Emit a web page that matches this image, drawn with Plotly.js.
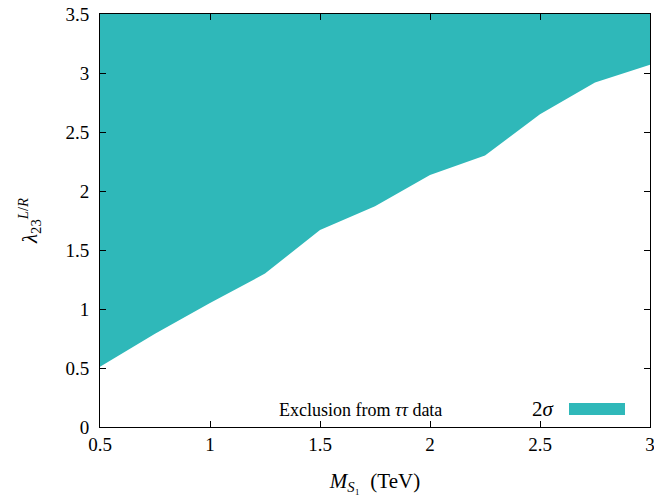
<!DOCTYPE html>
<html>
<head>
<meta charset="utf-8">
<script src="https://cdn.plot.ly/plotly-3.0.1.min.js"></script>
<style>html,body{margin:0;padding:0;background:#fff;}#chart{width:654px;height:495px;}</style>
</head>
<body>
<div id="chart"></div>
<script>
// Boundary of the 2σ exclusion region (excluded above the curve)
const massTeV = [0.5, 0.75, 1.0, 1.25, 1.5, 1.75, 2.0, 2.25, 2.5, 2.75, 3.0];
const lambdaLimit = [0.51, 0.79, 1.05, 1.30, 1.67, 1.87, 2.135, 2.30, 2.65, 2.92, 3.07];
const upperEdgeX = [0.5, 3.0];
const upperEdgeY = [3.5, 3.5];
const xTicks = [0.5, 1, 1.5, 2, 2.5, 3];
const xTickLabels = ['0.5', '1', '1.5', '2', '2.5', '3'];
const yTicks = [0, 0.5, 1, 1.5, 2, 2.5, 3, 3.5];
const yTickLabels = ['0', '0.5', '1', '1.5', '2', '2.5', '3', '3.5'];

const teal = 'rgb(47,184,185)';
const serif = 'Liberation Serif';

const traces = [
  {x: upperEdgeX, y: upperEdgeY, mode: 'lines', line: {width: 0, color: teal}, showlegend: false, hoverinfo: 'skip'},
  {x: massTeV, y: lambdaLimit, mode: 'lines', line: {width: 0, color: teal}, fill: 'tonexty', fillcolor: teal, showlegend: false, name: '2σ'}
];

const axisCommon = {
  showgrid: false, zeroline: false, showline: true, linecolor: '#000', linewidth: 1,
  mirror: 'ticks', ticks: 'inside', ticklen: 6, tickcolor: '#000', tickwidth: 1,
  ticklabeloverflow: 'allow',
  tickfont: {family: serif, size: 19, color: '#000'}
};

const layout = {
  width: 654, height: 495,
  margin: {l: 100, r: 4, t: 14, b: 68},
  paper_bgcolor: '#fff', plot_bgcolor: '#fff',
  font: {family: serif, color: '#000'},
  xaxis: Object.assign({}, axisCommon, {
    range: [0.5, 3], tickvals: xTicks, ticktext: xTickLabels,
    title: {text: '<i>M</i><sub><i>S</i>₁</sub>  (TeV)', font: {family: serif, size: 21, color: '#000'}, standoff: 20}
  }),
  yaxis: Object.assign({}, axisCommon, {
    range: [0, 3.5], tickvals: yTicks, ticktext: yTickLabels, ticklabelstandoff: 6,
    title: {text: '<i>λ</i><sub>23</sub><sup><i>L</i>/<i>R</i></sup>', font: {family: serif, size: 21, color: '#000'}, standoff: 22}
  }),
  annotations: [
    {xref: 'paper', yref: 'paper', x: (444 - 100) / 550, y: (427 - 410) / 413, xanchor: 'right', yanchor: 'middle',
     text: 'Exclusion from <i>ττ</i> data', showarrow: false, font: {family: serif, size: 18, color: '#000'}},
    {xref: 'paper', yref: 'paper', x: (557 - 100) / 550, y: (427 - 409) / 413, xanchor: 'right', yanchor: 'middle',
     text: '2<i>σ</i>', showarrow: false, font: {family: serif, size: 21, color: '#000'}}
  ],
  shapes: [
    {type: 'rect', xref: 'paper', yref: 'paper', x0: (569 - 100) / 550, x1: (625 - 100) / 550,
     y0: (427 - 415) / 413, y1: (427 - 403) / 413, fillcolor: teal, line: {width: 0}}
  ]
};

Plotly.newPlot('chart', traces, layout, {displayModeBar: false, staticPlot: true});
</script>
</body>
</html>
